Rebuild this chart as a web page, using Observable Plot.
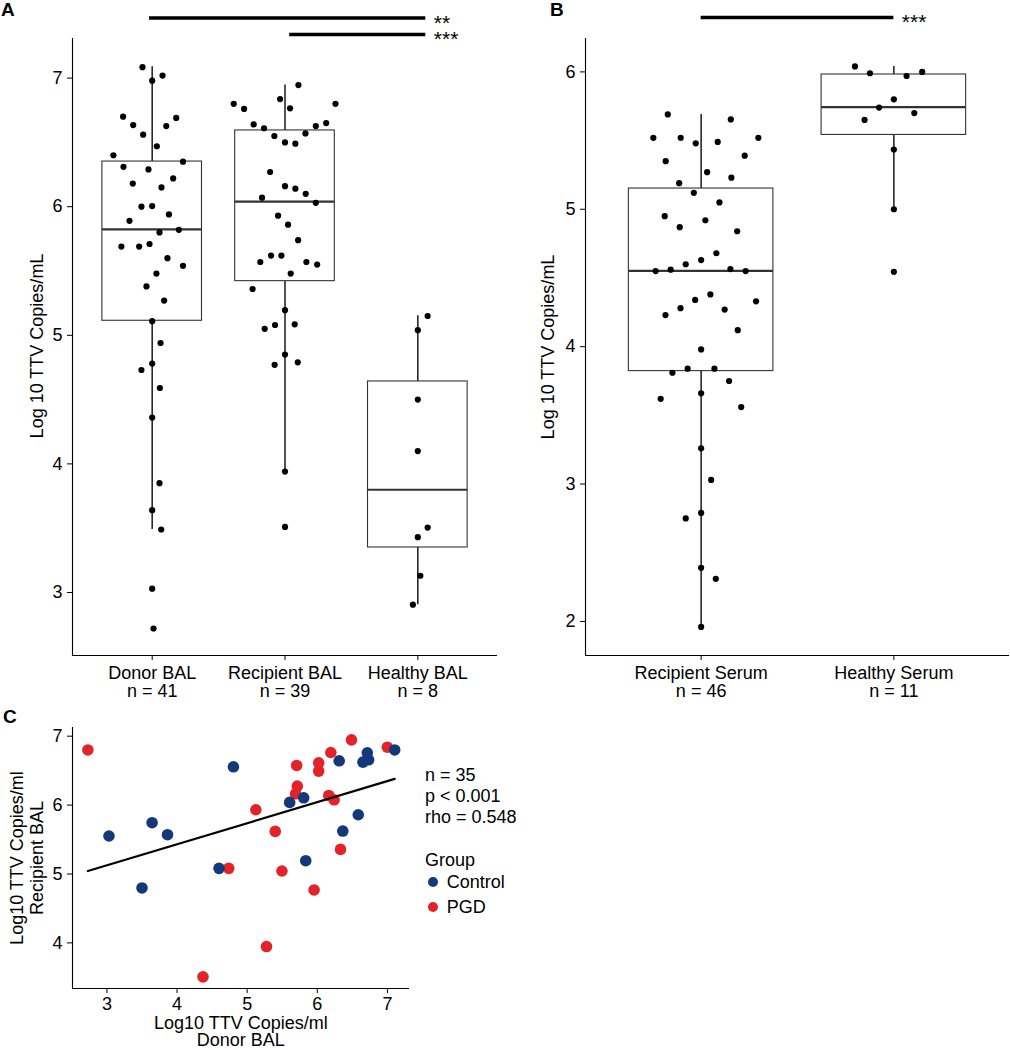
<!DOCTYPE html>
<html><head><meta charset="utf-8">
<script src="https://cdn.jsdelivr.net/npm/d3@7"></script>
<script src="https://cdn.jsdelivr.net/npm/@observablehq/plot@0.6"></script>
<style>
body{margin:0;background:#fff;}
#wrap{position:relative;width:1010px;height:1050px;font-family:"Liberation Sans",Arial,Helvetica,sans-serif;color:#000;overflow:hidden;background:#fff}
.abs{position:absolute;white-space:nowrap}
.plab{font-weight:bold;font-size:19px;line-height:20px}
.t18{font-size:18px;line-height:20px}
.rot{transform:translate(-50%,-50%) rotate(-90deg);text-align:center}
.dot{position:absolute;width:10px;height:10px;border-radius:50%}
svg{overflow:visible}
</style></head>
<body><div id="wrap"></div>
<script>
// ---------- Panel A data ----------
const catsA = ["Donor BAL", "Recipient BAL", "Healthy BAL"];
const nA = [41, 39, 8];
const donorBAL = [7.085, 6.98, 7.02, 6.70, 6.635, 6.56, 6.627, 6.69, 6.47, 6.40, 6.31, 6.29, 6.35, 6.18, 6.15, 6.22, 6.00, 6.005, 5.94, 5.89, 5.80, 5.82, 5.69, 5.69, 5.71, 5.60, 5.54, 5.48, 5.38, 5.27, 5.11, 4.94, 4.78, 4.73, 4.59, 4.36, 3.85, 3.64, 3.49, 3.03, 2.72];
const donorJit = [-0.073, 0, 0.078, -0.219, -0.143, -0.068, 0.106, 0.181, 0.035, -0.292, -0.216, -0.028, 0.232, -0.146, 0.070, 0.158, -0.081, 0, 0.126, -0.171, 0.055, 0.201, -0.232, -0.098, -0.020, 0.115, 0.232, 0.032, -0.043, 0.090, 0, 0.063, 0, -0.081, 0.058, 0, 0.055, 0, 0.068, 0, 0.010];
const recipBAL = [6.946, 6.837, 6.80, 6.76, 6.765, 6.80, 6.64, 6.61, 6.627, 6.65, 6.55, 6.57, 6.50, 6.49, 6.27, 6.16, 6.14, 6.10, 6.07, 6.03, 5.93, 5.86, 5.74, 5.62, 5.62, 5.57, 5.57, 5.55, 5.48, 5.36, 5.195, 5.08, 5.085, 5.05, 4.85, 4.77, 4.79, 3.94, 3.51];
const recipJit = [0.101, -0.037, -0.386, -0.308, 0.038, 0.38, -0.236, -0.158, 0.232, 0.31, -0.08, 0.154, 0, 0.078, -0.112, 0, 0.078, 0.156, -0.173, 0.232, -0.052, 0.023, 0.099, -0.105, -0.027, -0.186, 0.161, 0.242, 0.043, -0.244, 0, -0.075, 0.073, -0.153, 0, -0.078, 0.096, 0, 0];
const healthyBAL = [5.15, 5.04, 4.50, 4.10, 3.505, 3.43, 3.13, 2.905];
const healthyJit = [0.074, 0, 0, 0, 0.074, 0, 0.019, -0.037];
const boxA_lo = [3.49, 3.94, 2.905];
const boxA_q1 = [5.113, 5.421, 3.350];
const boxA_med = [5.823, 6.040, 3.799];
const boxA_q3 = [6.351, 6.593, 4.641];
const boxA_hi = [7.088, 6.946, 5.152];
const sigA_from = [0.98, 2.035];
const sigA_to = [3.06, 3.06];
const sigA_y = [7.467, 7.339];
const sigA_label = ["**", "***"];

// ---------- Panel B data ----------
const catsB = ["Recipient Serum", "Healthy Serum"];
const nB = [46, 11];
const recipSerum = [5.69, 5.654, 5.52, 5.52, 5.48, 5.49, 5.52, 5.35, 5.39, 5.27, 5.23, 5.19, 5.12, 5.05, 4.95, 4.92, 4.87, 4.84, 4.68, 4.63, 4.60, 4.55, 4.56, 4.565, 4.55, 4.38, 4.34, 4.33, 4.28, 4.27, 4.23, 4.12, 3.98, 3.81, 3.84, 3.84, 3.75, 3.62, 3.66, 3.56, 3.26, 3.03, 2.75, 2.79, 2.39, 2.31, 1.96];
const recipSerumJit = [-0.173, 0.154, -0.248, -0.106, -0.028, 0.086, 0.297, -0.184, 0.226, 0.031, 0.157, -0.114, -0.038, 0.095, -0.189, 0.022, -0.111, 0.187, 0.079, 0, -0.08, -0.236, -0.158, 0.152, 0.231, 0.048, -0.031, 0.285, -0.107, 0.122, -0.185, 0.19, 0, -0.149, -0.07, 0.069, 0.145, -0.21, 0, 0.208, 0, 0.052, -0.08, 0, 0, 0.076, 0];
const healthySerum = [6.04, 5.99, 5.97, 6.00, 5.80, 5.74, 5.70, 5.65, 5.435, 5.00, 4.545];
const healthySerumJit = [-0.202, -0.124, 0.066, 0.147, 0, -0.077, 0.106, -0.152, 0, 0, 0];
const boxB_lo = [1.953, 4.998];
const boxB_q1 = [3.822, 5.541];
const boxB_med = [4.551, 5.743];
const boxB_q3 = [5.151, 5.981];
const boxB_hi = [5.690, 6.039];
const sigB_from = [1];
const sigB_to = [2];
const sigB_y = [6.396];
const sigB_label = ["***"];

// ---------- Panel C data ----------
const groups = ["Control", "PGD"];
const groupColors = ["#13397a", "#e3232a"];
const controlX = [3.029, 3.644, 3.864, 3.50, 4.804, 4.599, 5.606, 5.806, 5.835, 6.312, 6.364, 6.584, 6.651, 6.713, 6.732, 7.104];
const controlY = [5.551, 5.744, 5.57, 4.797, 6.556, 5.082, 6.039, 6.106, 5.193, 6.643, 5.623, 5.86, 6.623, 6.758, 6.657, 6.80];
const pgdX = [2.728, 4.37, 4.737, 5.124, 5.276, 5.40, 5.496, 5.706, 5.715, 5.69, 6.02, 6.02, 5.954, 6.193, 6.164, 6.24, 6.331, 6.488, 6.999];
const pgdY = [6.80, 3.507, 5.082, 5.932, 3.947, 5.618, 5.043, 6.575, 6.275, 6.164, 6.493, 6.614, 4.768, 6.763, 6.14, 6.077, 5.357, 6.947, 6.84];
const statsC = ["n = 35", "p < 0.001", "rho = 0.548"];

// ---------- build tables ----------
const FONT = '"Liberation Sans", Arial, Helvetica, sans-serif';
const HALF = 0.375;
function pts(vals, jit, i) { return vals.map((v, k) => ({i, v, j: jit[k]})); }
function boxes(lo, q1, med, q3, hi) { return lo.map((_, k) => ({i: k + 1, lo: lo[k], q1: q1[k], med: med[k], q3: q3[k], hi: hi[k]})); }
function sigs(from, to, y, label) { return from.map((_, k) => ({x1: from[k], x2: to[k], y: y[k], label: label[k]})); }

const pointsA = [...pts(donorBAL, donorJit, 1), ...pts(recipBAL, recipJit, 2), ...pts(healthyBAL, healthyJit, 3)];
const boxA = boxes(boxA_lo, boxA_q1, boxA_med, boxA_q3, boxA_hi);
const sigA = sigs(sigA_from, sigA_to, sigA_y, sigA_label);
const pointsB = [...pts(recipSerum, recipSerumJit, 1), ...pts(healthySerum, healthySerumJit, 2)];
const boxB = boxes(boxB_lo, boxB_q1, boxB_med, boxB_q3, boxB_hi);
const sigB = sigs(sigB_from, sigB_to, sigB_y, sigB_label);
const pointsC = [
  ...pgdX.map((x, k) => ({x, y: pgdY[k], g: "PGD"})),
  ...controlX.map((x, k) => ({x, y: controlY[k], g: "Control"}))
];

function boxMarks(box, points, sig) {
  return [
    Plot.ruleX(box, {x: "i", y1: "q3", y2: "hi", stroke: "#1a1a1a", strokeWidth: 1.5}),
    Plot.ruleX(box, {x: "i", y1: "lo", y2: "q1", stroke: "#1a1a1a", strokeWidth: 1.5}),
    Plot.rect(box, {x1: d => d.i - HALF, x2: d => d.i + HALF, y1: "q1", y2: "q3", fill: "white", stroke: "#333", strokeWidth: 1.1}),
    Plot.ruleY(box, {y: "med", x1: d => d.i - HALF, x2: d => d.i + HALF, stroke: "#333", strokeWidth: 2.2}),
    Plot.dot(points, {x: d => d.i + d.j, y: "v", r: 3.1, fill: "#000", stroke: "none"}),
    Plot.ruleY(sig, {y: "y", x1: "x1", x2: "x2", stroke: "#000", strokeWidth: 3.5}),
    Plot.text(sig, {x: "x2", y: "y", text: "label", textAnchor: "start", dx: 8, dy: 5, fontSize: 21, fill: "#000"})
  ];
}

const wrap = document.getElementById("wrap");
function place(node, left, top) {
  const d = document.createElement("div");
  d.className = "abs";
  d.style.left = left + "px"; d.style.top = top + "px";
  d.appendChild(node);
  wrap.appendChild(d);
}
function label(html, cls, left, top, extra) {
  const d = document.createElement("div");
  d.className = "abs " + cls;
  d.style.left = left + "px"; d.style.top = top + "px";
  if (extra) Object.assign(d.style, extra);
  d.innerHTML = html;
  wrap.appendChild(d);
  return d;
}

// ---------- Panel A ----------
const xA = [0.4, 3.6], yA = [2.51, 7.308];
const plotA = Plot.plot({
  width: 505, height: 712,
  marginLeft: 72, marginRight: 8, marginTop: 38, marginBottom: 57,
  style: {fontFamily: FONT, fontSize: "18px", color: "#000", background: "transparent", overflow: "visible"},
  x: {domain: xA, ticks: [1, 2, 3], tickFormat: i => `${catsA[i - 1]}\nn = ${nA[i - 1]}`, label: null, tickSize: 5, tickPadding: 6},
  y: {domain: yA, ticks: [3, 4, 5, 6, 7], tickFormat: d3.format("d"), label: null, tickSize: 5, tickPadding: 5},
  marks: [
    Plot.ruleX([xA[0]], {stroke: "#000", strokeWidth: 1.1}),
    Plot.ruleY([yA[0]], {stroke: "#000", strokeWidth: 1.1}),
    ...boxMarks(boxA, pointsA, sigA)
  ]
});
place(plotA, 0, 0);

// ---------- Panel B ----------
const xB = [0.4, 2.6], yB = [1.752, 6.243];
const plotB = Plot.plot({
  width: 500, height: 712,
  marginLeft: 75, marginRight: 1, marginTop: 38, marginBottom: 57,
  style: {fontFamily: FONT, fontSize: "18px", color: "#000", background: "transparent", overflow: "visible"},
  x: {domain: xB, ticks: [1, 2], tickFormat: i => `${catsB[i - 1]}\nn = ${nB[i - 1]}`, label: null, tickSize: 5, tickPadding: 6},
  y: {domain: yB, ticks: [2, 3, 4, 5, 6], tickFormat: d3.format("d"), label: null, tickSize: 5, tickPadding: 5},
  marks: [
    Plot.ruleX([xB[0]], {stroke: "#000", strokeWidth: 1.1}),
    Plot.ruleY([yB[0]], {stroke: "#000", strokeWidth: 1.1}),
    ...boxMarks(boxB, pointsB, sigB)
  ]
});
place(plotB, 510, 0);

// ---------- Panel C ----------
const xC = [2.509, 7.315], yC = [3.338, 7.126];
const plotC = Plot.plot({
  width: 520, height: 360,
  marginLeft: 72, marginRight: 111, marginTop: 37, marginBottom: 62,
  style: {fontFamily: FONT, fontSize: "18px", color: "#000", background: "transparent", overflow: "visible"},
  x: {domain: xC, ticks: [3, 4, 5, 6, 7], tickFormat: d3.format("d"), label: null, tickSize: 5, tickPadding: 4},
  y: {domain: yC, ticks: [4, 5, 6, 7], tickFormat: d3.format("d"), label: null, tickSize: 5, tickPadding: 5},
  color: {domain: groups, range: groupColors},
  marks: [
    Plot.ruleX([xC[0]], {stroke: "#000", strokeWidth: 1.1}),
    Plot.ruleY([yC[0]], {stroke: "#000", strokeWidth: 1.1}),
    Plot.dot(pointsC, {x: "x", y: "y", fill: "g", r: 5.8, stroke: "none"}),
    Plot.linearRegressionY(pointsC, {x: "x", y: "y", ci: 0, stroke: "#000", strokeWidth: 2.2})
  ]
});
place(plotC, 0, 690);

// ---------- text annotations ----------
label("A", "plab", 1, 0.4);
label("B", "plab", 550, 0.1);
label("C", "plab", 3, 706.7);
label("Log 10 TTV Copies/mL", "t18 rot", 37, 346.2);
label("Log 10 TTV Copies/mL", "t18 rot", 548.4, 346.6);
label("Log10 TTV Copies/ml<br>Recipient BAL", "t18 rot", 26.7, 857.8);
label("Log10 TTV Copies/ml<br>Donor BAL", "t18", 240.8, 1015.3, {transform: "translateX(-50%)", textAlign: "center", lineHeight: "17px"});
label(statsC.join("<br>"), "t18", 425, 765, {lineHeight: "20.8px"});
label("Group", "t18", 425, 850.3);
groups.forEach((g, k) => {
  label(g, "t18", 446.7, 872 + k * 25);
  const dot = document.createElement("div");
  dot.className = "dot";
  dot.style.left = (433.3 - 5) + "px";
  dot.style.top = (881.7 + k * 25 - 5) + "px";
  dot.style.background = groupColors[k];
  wrap.appendChild(dot);
});
</script>
</body></html>
